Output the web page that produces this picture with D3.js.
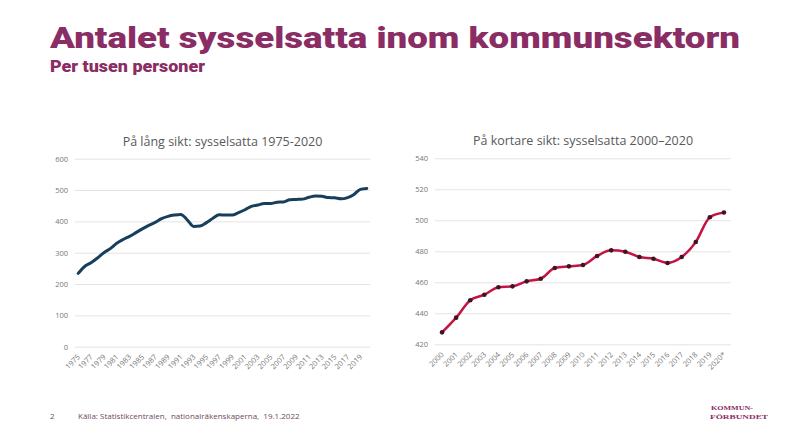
<!DOCTYPE html>
<html>
<head>
<meta charset="utf-8">
<script src="https://cdn.jsdelivr.net/npm/d3@7"></script>
<style>
  body { margin: 0; background: #fff; }
  svg { display: block; }
</style>
</head>
<body>
<div id="chart"></div>
<script>
// Data
var longYears = d3.range(1975, 2021);
var longValues = [234, 256, 268, 283, 300, 313, 330, 342, 352, 364,
                  376, 387, 397, 409, 416, 420, 422, 405, 384, 385,
                  396, 410, 421, 420, 420, 428, 437, 448, 452, 457,
                  457, 461, 462, 469, 470, 471, 477, 481, 480, 476,
                  475, 472, 476, 486, 502, 505];
var longTicks = [0, 100, 200, 300, 400, 500, 600];

var shortYears = ["2000", "2001", "2002", "2003", "2004", "2005", "2006", "2007",
                  "2008", "2009", "2010", "2011", "2012", "2013", "2014", "2015",
                  "2016", "2017", "2018", "2019", "2020*"];
var shortValues = [427.7, 437.2, 448.4, 452.0, 456.8, 457.4, 460.6, 462.3,
                   469.2, 470.3, 471.2, 477.0, 480.6, 479.7, 476.3, 475.2,
                   472.5, 476.3, 486.0, 502.0, 505.0];
var shortTicks = [420, 440, 460, 480, 500, 520, 540];

var purple = "#8a2d64";
var font = "'Open Sans', 'Noto Sans', sans-serif";

var svg = d3.select("#chart")
  .append("svg")
  .attr("width", 790)
  .attr("height", 444);

svg.append("rect").attr("width", 790).attr("height", 444).attr("fill", "#fff");

// Headline
svg.append("text")
  .attr("x", 50).attr("y", 48)
  .attr("textLength", 690)
  .attr("lengthAdjust", "spacingAndGlyphs")
  .style("font", "900 29px Roboto, sans-serif")
  .attr("fill", purple)
  .text("Antalet sysselsatta inom kommunsektorn");

svg.append("text")
  .attr("x", 50).attr("y", 72)
  .attr("textLength", 155)
  .attr("lengthAdjust", "spacingAndGlyphs")
  .style("font", "900 16px Roboto, sans-serif")
  .attr("fill", purple)
  .text("Per tusen personer");

// Draw one panel
function panel(opts) {
  var g = svg.append("g");

  var x = d3.scalePoint()
    .domain(opts.cats)
    .range([opts.left, opts.right])
    .padding(0.5);

  var y = d3.scaleLinear()
    .domain(d3.extent(opts.yTicks))
    .range([opts.bottom, opts.top]);

  // title
  g.append("text")
    .attr("x", (opts.left + opts.right) / 2)
    .attr("y", opts.top - 13)
    .attr("text-anchor", "middle")
    .style("font", "400 12.5px " + font)
    .attr("fill", "#595959")
    .text(opts.title);

  // y axis with gridlines
  var ya = g.append("g")
    .attr("transform", "translate(" + opts.left + ",0)")
    .call(d3.axisLeft(y)
      .tickValues(opts.yTicks)
      .tickSize(-(opts.right - opts.left))
      .tickPadding(7));
  ya.select(".domain").remove();
  ya.selectAll("line").attr("stroke", "#e3e3e3");
  ya.selectAll("text")
    .style("font", "400 7.5px " + font)
    .attr("fill", "#777");

  // x axis
  var xa = g.append("g")
    .attr("transform", "translate(0," + opts.bottom + ")")
    .call(d3.axisBottom(x)
      .tickValues(opts.xTicks)
      .tickSize(0)
      .tickPadding(0));
  xa.select(".domain").remove();
  xa.selectAll("text")
    .style("font", "400 7.5px " + font)
    .attr("fill", "#777")
    .attr("text-anchor", "end")
    .attr("dy", "0.35em")
    .attr("transform", "translate(0,9) rotate(-45)");

  var line = d3.line()
    .x(function (d) { return x(d.cat); })
    .y(function (d) { return y(d.value); })
    .curve(d3.curveMonotoneX);

  var data = opts.cats.map(function (c, i) {
    return { cat: c, value: opts.values[i] };
  });

  g.append("path")
    .datum(data)
    .attr("fill", "none")
    .attr("stroke", opts.color)
    .attr("stroke-width", opts.lineWidth)
    .attr("stroke-linejoin", "round")
    .attr("stroke-linecap", "round")
    .attr("d", line);

  if (opts.dots) {
    g.selectAll(".dot")
      .data(data)
      .enter()
      .append("circle")
      .attr("cx", function (d) { return x(d.cat); })
      .attr("cy", function (d) { return y(d.value); })
      .attr("r", 2.3)
      .attr("fill", "#3b1426");
  }
}

panel({
  cats: longYears,
  values: longValues,
  yTicks: longTicks,
  xTicks: longYears.filter(function (d) { return (d - 1975) % 2 === 0 && d < 2020; }),
  left: 75, right: 370, top: 158.7, bottom: 346.7,
  title: "På lång sikt: sysselsatta 1975-2020",
  color: "#173f5c", lineWidth: 3, dots: false
});

panel({
  cats: shortYears,
  values: shortValues,
  yTicks: shortTicks,
  xTicks: shortYears,
  left: 435, right: 731, top: 158.3, bottom: 344.3,
  title: "På kortare sikt: sysselsatta 2000\u20132020",
  color: "#c41442", lineWidth: 2.5, dots: true
});

// Footer
svg.append("text")
  .attr("x", 50).attr("y", 419)
  .style("font", "400 8px " + font)
  .attr("fill", "#6e4a60")
  .text("2");

svg.append("text")
  .attr("x", 78).attr("y", 419)
  .style("font", "400 8px " + font)
  .attr("fill", "#6e4a60")
  .attr("xml:space", "preserve")
  .text("Källa: Statistikcentralen,  nationalräkenskaperna,  19.1.2022");

// Logo text
var logo = svg.append("g").attr("fill", purple)
  .style("font", "700 7px 'Liberation Serif', serif");
logo.append("text").attr("x", 711).attr("y", 410).attr("textLength", 42)
  .attr("lengthAdjust", "spacingAndGlyphs").text("KOMMUN-");
logo.append("text").attr("x", 710).attr("y", 418.5).attr("textLength", 58)
  .attr("lengthAdjust", "spacingAndGlyphs").text("FÖRBUNDET");
</script>
</body>
</html>
